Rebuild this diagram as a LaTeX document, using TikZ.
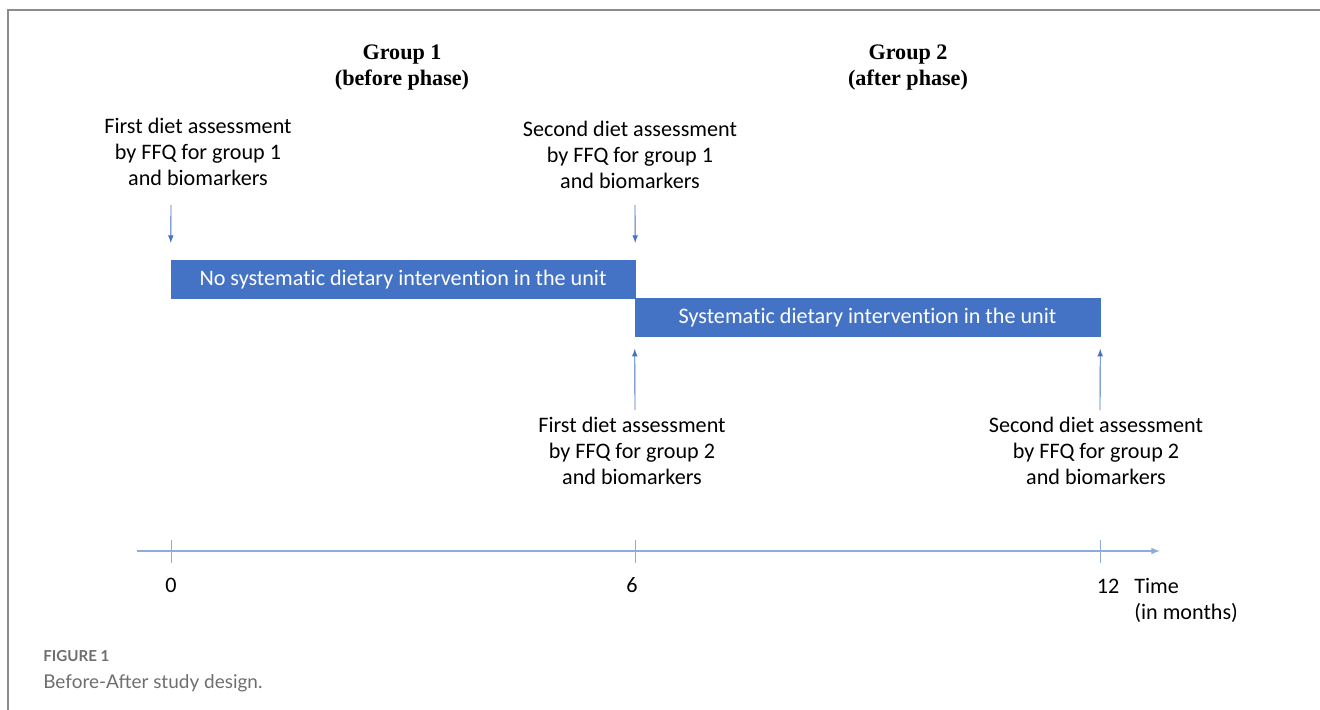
\documentclass[tikz,border=0pt]{standalone}
\usepackage{fontspec}
\setmainfont{Carlito}[Ligatures={NoCommon}]
\newfontfamily\headfont{Liberation Serif}
\newfontfamily\capfont{Lato}
\usetikzlibrary{arrows}

\definecolor{barblue}{HTML}{4472C4}
\definecolor{axisblue}{HTML}{8FAADC}
\definecolor{framegray}{HTML}{8C8C8C}
\definecolor{capgray}{HTML}{6E6E6E}

\tikzset{
  lbl/.style={align=center, inner sep=0pt, font=\fontsize{12.6}{14.8}\selectfont},
  head/.style={align=center, inner sep=0pt, font=\headfont\bfseries\fontsize{12.6}{14.8}\selectfont},
  bar/.style={fill=barblue, draw=barblue, text=white, inner sep=0pt, minimum height=0.75cm,
    font=\fontsize{12.6}{14.8}\selectfont},
  mark arrow/.style={draw=barblue, line width=0.5pt, -latex},
}

\begin{document}
\begin{tikzpicture}[x=0.02cm, y=-0.02cm]

\useasboundingbox (0,0) rectangle (1320,710);

% frame
\draw[framegray, line width=1.2pt] (8,710) -- (8,10) -- (1320,10);

% headings
\node[head] (g1) at (402,68) {Group 1\\(before phase)};
\node[head] (g2) at (908,68) {Group 2\\(after phase)};

% the two phases
\node[bar, minimum width=9.28cm] (p1) at (403,279.5) {No systematic dietary intervention in the unit};
\node[bar, minimum width=9.30cm] (p2) at (867.5,317.5) {Systematic dietary intervention in the unit};

% assessments
\node[lbl] (a1) at (198,152) {First diet assessment\\by FFQ for group 1\\and biomarkers};
\node[lbl] (a2) at (630,155) {Second diet assessment\\by FFQ for group 1\\and biomarkers};
\node[lbl] (a3) at (632,451) {First diet assessment\\by FFQ for group 2\\and biomarkers};
\node[lbl] (a4) at (1096,451) {Second diet assessment\\by FFQ for group 2\\and biomarkers};

\coordinate (s1) at (171,205);
\coordinate (s2) at (635,205);
\coordinate (s3) at (635,410);
\coordinate (s4) at (1100,410);

\draw[mark arrow, shorten >=10pt] (s1) -- (p1.north west);
\draw[mark arrow, shorten >=10pt] (s2) -- (p1.north east);
\draw[mark arrow, shorten >=7pt] (s3) -- (p2.south west);
\draw[mark arrow, shorten >=7pt] (s4) -- (p2.south east);

% time axis
\coordinate (t0) at (137,551);
\coordinate (t1) at (1160,551);
\draw[axisblue, line width=0.7pt, -latex] (t0) -- (t1);

\foreach \x/\m in {171/0, 635/6, 1100/12}
    \draw[axisblue, line width=0.5pt] (\x,540) -- (\x,563);

\node[lbl] (m0) at (171,585) {0};
\node[lbl] (m6) at (632,585) {6};
\node[lbl] (m12) at (1108,586) {12};
\node[lbl, anchor=west] (tm) at (1134,586) {Time};
\node[lbl, anchor=west] (tu) at (1134,613) {(in months)};

% caption
\node[anchor=west, inner sep=0pt, text=capgray, font=\capfont\bfseries\fontsize{8.6}{10}\selectfont] (fig) at (43,656) {FIGURE 1};
\node[anchor=west, inner sep=0pt, text=capgray, font=\capfont\fontsize{10.8}{12}\selectfont] (cap) at (43,683) {Before-After study design.};

\end{tikzpicture}
\end{document}
